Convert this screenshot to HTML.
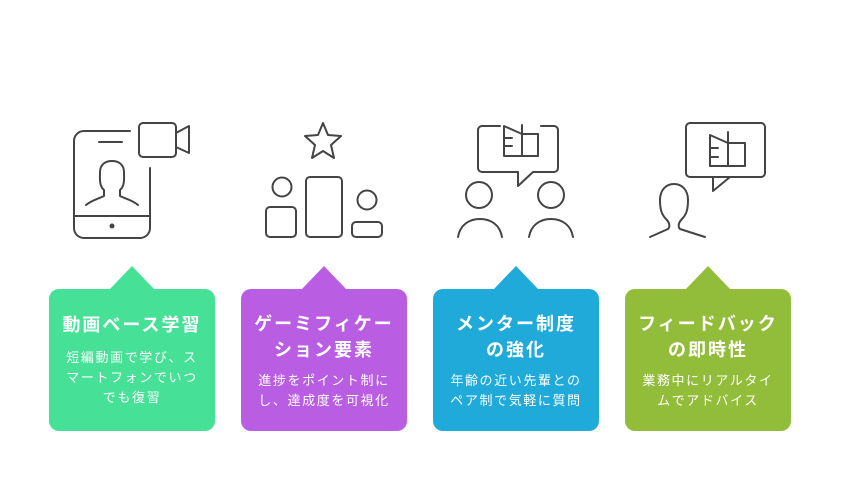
<!DOCTYPE html>
<html><head><meta charset="utf-8"><style>
body{margin:0;width:844px;height:504px;background:#fff;overflow:hidden;position:relative;font-family:"Liberation Sans","Noto Sans CJK JP",sans-serif}
.c{position:absolute;top:289px;width:166px;height:142px;border-radius:10px;color:#fff;text-align:center}
.c:before{content:"";position:absolute;left:60px;top:-23px;border-left:23px solid transparent;border-right:23px solid transparent;border-bottom:24px solid var(--k)}
.t{position:absolute;left:0;width:166px;font-weight:bold;font-size:18px;line-height:26px;letter-spacing:2px}
.d{position:absolute;left:0;width:166px;font-size:13px;line-height:20px;letter-spacing:1.6px}
svg{position:absolute;left:0;top:0}
</style></head><body>
<svg width="844" height="504" fill="none" stroke="#444" stroke-width="2" stroke-linecap="round" stroke-linejoin="round">
<!-- icon1 -->
<path d="M130 131 H84 a10 10 0 0 0 -10 10 V228 a10 10 0 0 0 10 10 H140 a10 10 0 0 0 10 -10 V168"/>
<path d="M99 142 H122 M74 216 H150"/>
<circle cx="112" cy="226" r="1.5" fill="#444"/>
<rect x="139" y="123" width="37" height="34" rx="4"/>
<path d="M176 133 L189 126 V153 L176 147"/>
<path d="M86 205 C92 200 98 199 104 196 V190 C99 186 100 178 100 172 C100 164 106 161 112 161 C118 161 124 164 124 172 C124 178 125 186 120 190 V196 C126 199 132 200 138 205"/>
<!-- icon2 -->
<path d="M323 123 L328 135 L341 136 L331 145 L334 158 L323 151 L312 158 L315 145 L305 136 L318 135 Z"/>
<circle cx="282" cy="187" r="9.5"/>
<rect x="266" y="207" width="30" height="30" rx="4"/>
<rect x="306" y="177" width="36" height="60" rx="4"/>
<circle cx="367" cy="200" r="9.5"/>
<rect x="352" y="222" width="30" height="15" rx="4"/>
<!-- icon3 -->
<path d="M500 126 H482 a4 4 0 0 0 -4 4 V168 a4 4 0 0 0 4 4 H518 V186 L533 172 H554 a4 4 0 0 0 4 -4 V130 a4 4 0 0 0 -4 -4 H541"/>
<path d="M504 126 L522 134 V156 H504 Z M522 134 H538 V156 H522 M522 125 V156 M504 138 H512 M504 146 H512"/>
<circle cx="479" cy="195" r="13"/>
<circle cx="551" cy="195" r="13"/>
<path d="M458 237 C460 225 469 219 480 219 C491 219 500 225 502 237"/>
<path d="M529 237 C531 225 540 219 551 219 C562 219 571 225 573 237"/>
<!-- icon4 -->
<rect x="686" y="123" width="79" height="54" rx="4"/>
<path d="M713 177 V191 L730 177" stroke="#444"/>
<path d="M710 135 L728 143 V166 H710 Z M728 143 H745 V166 H728 M728 132 V166 M710 148 H718 M710 157 H718" />
<path d="M650 237 L668 229 C670 227 670 223 666 219 C661 214 660 208 660 200 C660 190 666 184 674 184 C682 184 688 190 688 200 C688 208 687 214 682 219 C678 223 678 227 680 229 L705 237"/>
</svg>
<path/>
<div class="c" style="left:49px;background:#46E096;--k:#46E096">
<div class="t" style="top:23px">動画ベース学習</div>
<div class="d" style="top:59px">短編動画で学び、ス<br>マートフォンでいつ<br>でも復習</div></div>
<div class="c" style="left:241px;background:#B95EE3;--k:#B95EE3">
<div class="t" style="top:22px">ゲーミフィケー<br>ション要素</div>
<div class="d" style="top:82px">進捗をポイント制に<br>し、達成度を可視化</div></div>
<div class="c" style="left:433px;background:#1FAAD9;--k:#1FAAD9">
<div class="t" style="top:22px">メンター制度<br>の強化</div>
<div class="d" style="top:82px">年齢の近い先輩との<br>ペア制で気軽に質問</div></div>
<div class="c" style="left:625px;background:#92BD3A;--k:#92BD3A">
<div class="t" style="top:22px">フィードバック<br>の即時性</div>
<div class="d" style="top:82px">業務中にリアルタイ<br>ムでアドバイス</div></div>
</body></html>
